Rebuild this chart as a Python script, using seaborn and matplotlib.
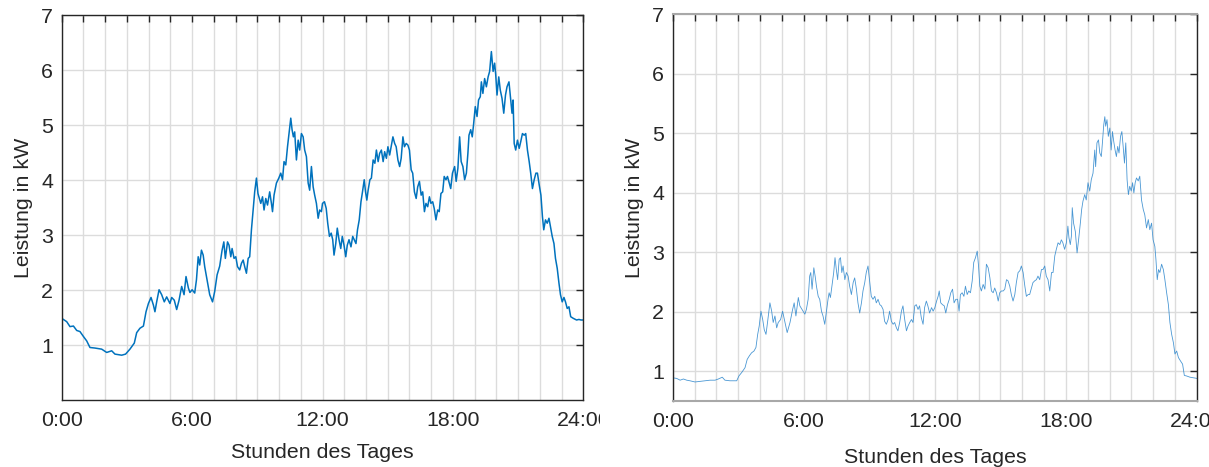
import numpy as np
import pandas as pd
import matplotlib
matplotlib.use("Agg")
import matplotlib.pyplot as plt
import seaborn as sns
from matplotlib.patches import Rectangle

# ---------------- data ----------------
left_hours = [0.00, 0.23, 0.38, 0.54, 0.69, 0.84, 1.00, 1.15, 1.30, 1.53, 1.84, 2.07, 2.30, 2.45, 2.76, 2.94,
              3.14, 3.34, 3.45, 3.60, 3.76, 3.88, 3.99, 4.11, 4.22, 4.29, 4.37, 4.48, 4.60, 4.72, 4.83, 4.98,
              5.06, 5.18, 5.29, 5.40, 5.52, 5.63, 5.72, 5.83, 5.90,
              6.00, 6.12, 6.20, 6.28, 6.35, 6.43, 6.51, 6.58, 6.66, 6.74, 6.81, 6.94, 7.04, 7.15, 7.27, 7.38,
              7.46, 7.53, 7.63, 7.70, 7.78, 7.84, 7.93, 8.01, 8.09, 8.19, 8.27, 8.35, 8.42, 8.50, 8.58, 8.65,
              8.73, 8.81, 8.88, 8.96, 9.03, 9.16, 9.24, 9.31, 9.39, 9.47, 9.57, 9.65, 9.70, 9.77, 9.88, 9.99,
              10.08, 10.16, 10.23, 10.31, 10.39, 10.46, 10.54, 10.60, 10.66, 10.72, 10.80, 10.88, 10.95, 11.03,
              11.11, 11.18, 11.26, 11.34, 11.41, 11.49, 11.57, 11.64, 11.72, 11.80, 11.87, 11.95,
              12.00, 12.09, 12.17, 12.24, 12.32, 12.40, 12.47, 12.53, 12.61, 12.68, 12.76, 12.84, 12.91, 12.99,
              13.07, 13.14, 13.22, 13.31, 13.39, 13.46, 13.54, 13.61, 13.69, 13.77, 13.84, 13.92, 13.98, 14.04,
              14.10, 14.18, 14.25, 14.33, 14.41, 14.48, 14.56, 14.63, 14.71, 14.79, 14.86, 14.94, 15.01, 15.09,
              15.17, 15.24, 15.32, 15.39, 15.47, 15.55, 15.62, 15.70, 15.77, 15.85, 15.93, 16.00, 16.08, 16.15,
              16.23, 16.31, 16.38, 16.46, 16.54, 16.61, 16.69, 16.76, 16.84, 16.92, 16.99, 17.07, 17.14, 17.22,
              17.30, 17.37, 17.45, 17.53, 17.60, 17.68, 17.75, 17.83, 17.90, 17.98,
              18.08, 18.15, 18.23, 18.31, 18.38, 18.46, 18.54, 18.62, 18.69, 18.74, 18.82, 18.89, 18.95, 19.03,
              19.11, 19.18, 19.26, 19.31, 19.38, 19.46, 19.54, 19.62, 19.69, 19.77, 19.85, 19.92, 19.97, 20.03,
              20.11, 20.18, 20.26, 20.34, 20.42, 20.49, 20.58, 20.66, 20.72, 20.77, 20.82, 20.89, 20.97, 21.05,
              21.12, 21.20, 21.28, 21.35, 21.43, 21.51, 21.58, 21.66, 21.74, 21.82, 21.89, 21.97, 22.05, 22.12,
              22.18, 22.26, 22.34, 22.42, 22.49, 22.57, 22.65, 22.72, 22.80, 22.88, 22.95, 23.03, 23.11, 23.18,
              23.26, 23.34, 23.42, 23.54, 23.69, 23.80, 23.89, 24.00]
left_kw = [1.49, 1.43, 1.34, 1.35, 1.27, 1.25, 1.16, 1.08, 0.96, 0.95, 0.93, 0.87, 0.90, 0.84, 0.82, 0.84,
           0.93, 1.04, 1.23, 1.31, 1.35, 1.61, 1.76, 1.87, 1.73, 1.61, 1.79, 2.01, 1.92, 1.79, 1.88, 1.76,
           1.87, 1.82, 1.65, 1.82, 2.07, 1.92, 2.25, 2.04, 1.96,
           2.01, 1.95, 2.19, 2.61, 2.46, 2.73, 2.64, 2.43, 2.25, 2.07, 1.92, 1.79, 1.98, 2.28, 2.44, 2.73,
           2.88, 2.58, 2.88, 2.82, 2.61, 2.76, 2.58, 2.61, 2.43, 2.37, 2.49, 2.55, 2.43, 2.31, 2.58, 2.61,
           3.10, 3.46, 3.79, 4.04, 3.76, 3.58, 3.70, 3.46, 3.67, 3.55, 3.79, 3.58, 3.43, 3.73, 3.95, 4.04,
           4.13, 4.01, 4.34, 4.28, 4.61, 4.85, 5.13, 4.92, 4.79, 4.88, 4.37, 4.73, 4.55, 4.85,
           4.79, 4.55, 4.43, 3.95, 3.82, 4.25, 3.88, 3.73, 3.58, 3.31, 3.46, 3.43,
           3.58, 3.61, 3.49, 3.22, 2.98, 3.04, 2.92, 2.64, 2.85, 3.13, 2.92, 2.76, 2.98, 2.82,
           2.61, 2.82, 2.92, 2.79, 2.98, 2.92, 2.85, 3.10, 3.28, 3.61, 3.79, 4.01, 3.79, 3.64,
           3.82, 4.01, 4.04, 4.37, 4.31, 4.55, 4.34, 4.49, 4.55, 4.34, 4.52, 4.40, 4.61, 4.46,
           4.64, 4.79, 4.67, 4.61, 4.37, 4.25, 4.40, 4.79, 4.61, 4.67, 4.64, 4.55, 4.19, 4.13,
           3.79, 3.67, 3.88, 3.98, 3.73, 3.79, 3.43, 3.58, 3.52, 3.70, 3.58, 3.61, 3.49, 3.28,
           3.46, 3.43, 3.76, 3.79, 4.07, 4.01, 4.07, 3.95, 3.85, 4.13,
           4.25, 3.98, 4.22, 4.79, 4.34, 4.25, 4.01, 4.13, 4.49, 4.82, 4.92, 4.79, 5.01, 5.34,
           5.16, 5.46, 5.52, 5.79, 5.58, 5.85, 5.70, 5.88, 5.98, 6.34, 5.98, 6.13, 5.92, 5.55,
           5.88, 5.64, 5.49, 5.22, 5.55, 5.70, 5.79, 5.46, 5.22, 5.46, 4.67, 4.55, 4.73, 4.58,
           4.70, 4.85, 4.82, 4.85, 4.55, 4.34, 4.13, 3.85, 4.01, 4.13, 4.13, 3.92, 3.73, 3.34,
           3.10, 3.28, 3.22, 3.31, 3.16, 2.98, 2.85, 2.58, 2.40, 2.13, 1.92, 1.79, 1.87, 1.79,
           1.67, 1.70, 1.52, 1.49, 1.46, 1.47, 1.46, 1.46]

right_hours = [0.00, 0.18, 0.34, 0.49, 0.64, 0.79, 1.02, 1.25, 1.48, 1.71, 1.94, 2.09, 2.27, 2.39, 2.62, 2.93,
               3.03, 3.16, 3.31, 3.41, 3.51, 3.61, 3.72, 3.81, 3.89, 3.96, 4.04, 4.12, 4.19, 4.27, 4.34, 4.45,
               4.53, 4.60, 4.68, 4.76, 4.83, 4.94, 5.03, 5.14, 5.24, 5.37, 5.49, 5.56, 5.64, 5.75, 5.82,
               5.97, 6.05, 6.12, 6.20, 6.27, 6.32, 6.38, 6.46, 6.52, 6.58, 6.66, 6.73, 6.81, 6.88, 6.96, 7.04,
               7.11, 7.16, 7.22, 7.30, 7.37, 7.43, 7.49, 7.55, 7.62, 7.68, 7.74, 7.80, 7.88, 7.95, 8.03, 8.10,
               8.18, 8.26, 8.33, 8.41, 8.48, 8.56, 8.64, 8.71, 8.79, 8.86, 8.94, 9.02, 9.09, 9.17, 9.25, 9.32,
               9.40, 9.48, 9.55, 9.63, 9.70, 9.78, 9.86, 9.93, 10.01, 10.09, 10.16, 10.24, 10.31, 10.39, 10.47,
               10.54, 10.62, 10.70, 10.77, 10.85, 10.93, 11.00, 11.08, 11.15, 11.23, 11.30, 11.38, 11.46, 11.53,
               11.61, 11.68, 11.76,
               11.85, 11.92, 12.00, 12.08, 12.15, 12.20, 12.27, 12.35, 12.43, 12.50, 12.58, 12.66, 12.73, 12.81,
               12.88, 12.96, 13.04, 13.11, 13.17, 13.25, 13.33, 13.40, 13.48, 13.55, 13.63, 13.71, 13.78, 13.86,
               13.94, 14.00, 14.06, 14.13, 14.21, 14.29, 14.36, 14.44, 14.52, 14.59, 14.67, 14.74, 14.82, 14.90,
               14.97, 15.05, 15.13, 15.20, 15.28, 15.35, 15.43, 15.50, 15.58, 15.66, 15.73, 15.81, 15.89, 15.96,
               16.04, 16.12, 16.19, 16.27, 16.34, 16.42, 16.49, 16.57, 16.65, 16.72, 16.80, 16.88, 16.95, 17.03,
               17.10, 17.18, 17.26, 17.34, 17.41, 17.49, 17.56, 17.64, 17.72,
               17.79, 17.86, 17.94, 18.02, 18.09, 18.14, 18.20, 18.25, 18.29, 18.35, 18.43, 18.51, 18.58, 18.66,
               18.72, 18.78, 18.86, 18.93, 19.01, 19.09, 19.16, 19.24, 19.32, 19.36, 19.42, 19.49, 19.55, 19.62,
               19.67, 19.73, 19.78, 19.82, 19.88, 19.94, 20.01, 20.07, 20.13, 20.19, 20.25, 20.31, 20.37, 20.43,
               20.50, 20.56, 20.62, 20.68, 20.74, 20.80, 20.86, 20.92, 20.99, 21.05, 21.11, 21.17, 21.23, 21.31,
               21.38, 21.46, 21.54, 21.61, 21.69, 21.77, 21.84, 21.92, 21.99, 22.07, 22.12, 22.18, 22.24, 22.30,
               22.38, 22.46, 22.53, 22.61, 22.69, 22.76, 22.84, 22.92, 22.99, 23.07, 23.15, 23.25, 23.34, 23.42,
               23.53, 23.68, 23.83, 24.00]
right_kw = [0.89, 0.88, 0.85, 0.87, 0.85, 0.84, 0.82, 0.83, 0.84, 0.85, 0.85, 0.87, 0.90, 0.85, 0.84, 0.84,
            0.92, 0.98, 1.06, 1.20, 1.26, 1.31, 1.34, 1.40, 1.62, 1.76, 2.01, 1.87, 1.70, 1.62, 1.82, 2.15,
            2.01, 1.82, 1.93, 1.73, 1.82, 1.87, 2.01, 1.82, 1.65, 1.82, 2.04, 2.15, 1.93, 2.24, 2.10,
            2.01, 1.96, 2.04, 2.21, 2.60, 2.66, 2.38, 2.74, 2.60, 2.43, 2.26, 2.21, 2.01, 1.93, 1.79, 2.01,
            2.21, 2.32, 2.24, 2.46, 2.66, 2.91, 2.71, 2.54, 2.88, 2.91, 2.66, 2.77, 2.54, 2.66, 2.60, 2.43,
            2.29, 2.49, 2.57, 2.38, 2.15, 1.98, 2.15, 2.35, 2.49, 2.66, 2.77, 2.49, 2.26, 2.21, 2.26, 2.15,
            2.21, 2.12, 2.10, 2.04, 1.84, 1.79, 1.87, 2.01, 1.84, 1.79, 1.82, 1.73, 1.68, 1.82, 2.01,
            2.10, 1.87, 1.68, 1.76, 1.82, 1.87, 1.82, 2.10, 2.12, 2.04, 2.10, 1.90, 1.79, 2.07,
            2.18, 2.10, 1.98,
            2.07, 2.01, 2.07, 2.18, 2.26, 2.35, 2.15, 2.12, 2.10, 1.98, 2.12, 2.21, 2.32, 2.38,
            2.15, 2.21, 2.21, 2.01, 2.29, 2.32, 2.26, 2.43, 2.29, 2.35, 2.32, 2.52, 2.83, 2.91,
            3.02, 2.77, 2.43, 2.35, 2.46, 2.38, 2.80, 2.74, 2.57, 2.35, 2.32, 2.40, 2.32, 2.18,
            2.32, 2.35, 2.35, 2.38, 2.54, 2.52, 2.43, 2.29, 2.18, 2.29, 2.49, 2.66, 2.69, 2.77,
            2.66, 2.43, 2.26, 2.29, 2.29, 2.40, 2.49, 2.52, 2.54, 2.60, 2.54, 2.71, 2.71, 2.77,
            2.60, 2.54, 2.35, 2.66, 2.66, 2.94, 3.05, 3.16, 3.13,
            3.21, 3.16, 3.05, 3.16, 3.44, 3.24, 3.13, 3.27, 3.75, 3.49, 3.35, 2.99, 3.21, 3.49,
            3.72, 3.86, 3.97, 3.88, 4.17, 4.03, 4.22, 4.33, 4.72, 4.44, 4.84, 4.89, 4.67, 4.61,
            4.84, 5.14, 5.28, 5.12, 5.23, 4.95, 5.09, 4.72, 5.03, 4.86, 4.72, 4.61, 4.78, 4.67,
            4.95, 5.03, 4.78, 4.50, 4.84, 4.22, 3.97, 4.11, 4.03, 4.17, 4.00, 4.17, 4.25, 4.20,
            4.28, 3.88, 3.72, 3.63, 3.41, 3.55, 3.38, 3.49, 3.21, 3.10, 2.88, 2.54, 2.71, 2.66,
            2.80, 2.71, 2.54, 2.32, 2.12, 1.82, 1.62, 1.48, 1.29, 1.34, 1.23, 1.17, 1.12, 0.93,
            0.92, 0.90, 0.89, 0.88]

x_tick_hours = [0, 6, 12, 18, 24]
x_tick_labels = ["0:00", "6:00", "12:00", "18:00", "24:00"]
y_ticks = [1, 2, 3, 4, 5, 6, 7]
x_label = "Stunden des Tages"
y_label = "Leistung in kW"

# ---------------- styling ----------------
sns.set_theme(style="white")
plt.rcParams["font.family"] = ["Liberation Sans", "DejaVu Sans"]

FS = 15.4
fig = plt.figure(figsize=(12.09, 4.67), dpi=100)
W, H = 1209.0, 467.0
ax1 = fig.add_axes([61.7 / W, (H - 400.3) / H, 521.6 / W, 385.0 / H])
ax2 = fig.add_axes([672.7 / W, (H - 401.0) / H, 524.3 / W, 386.6 / H])

df1 = pd.DataFrame({"h": left_hours, "kw": left_kw})
df2 = pd.DataFrame({"h": right_hours, "kw": right_kw})

sns.lineplot(data=df1, x="h", y="kw", ax=ax1, color="#0072BD", linewidth=1.1,
             estimator=None, sort=False)
sns.lineplot(data=df2, x="h", y="kw", ax=ax2, color="#2a85cc", linewidth=0.6,
             alpha=0.85, estimator=None, sort=False)

for ax, ymin, xpad in ((ax1, 0.0, 9), (ax2, 0.5, 12)):
    ax.set_xlim(0, 24)
    ax.set_ylim(ymin, 7)
    ax.set_xticks(range(0, 25))
    ax.set_xticklabels([x_tick_labels[x_tick_hours.index(h)] if h in x_tick_hours else ""
                        for h in range(0, 25)])
    ax.set_yticks(y_ticks)
    ax.set_yticklabels([str(v) for v in y_ticks])
    ax.grid(True, color="#dcdcdc", linewidth=1.0)
    ax.set_axisbelow(True)
    ax.tick_params(direction="in", length=5, width=1.0, top=True, right=True,
                   labelsize=FS, colors="#262626")
    ax.tick_params(axis="x", pad=8)
    ax.tick_params(axis="y", pad=6)
    ax.set_xlabel(x_label, fontsize=FS, color="#262626", labelpad=xpad)
    ax.set_ylabel(y_label, fontsize=FS, color="#262626", labelpad=6)
    for s in ax.spines.values():
        s.set_visible(True)
        s.set_linewidth(1.0)
        s.set_color("#262626")

for side in ("top", "bottom"):
    ax2.spines[side].set_color("#a8a8a8")
    ax2.spines[side].set_linewidth(1.5)

# left panel in the reference is cropped just after "24:0"
fig.add_artist(Rectangle((600 / W, (H - 445) / H), 42 / W, 42 / H,
                         transform=fig.transFigure, facecolor="white",
                         edgecolor="none", zorder=10))

fig.savefig("out.png", dpi=100, facecolor="white")
